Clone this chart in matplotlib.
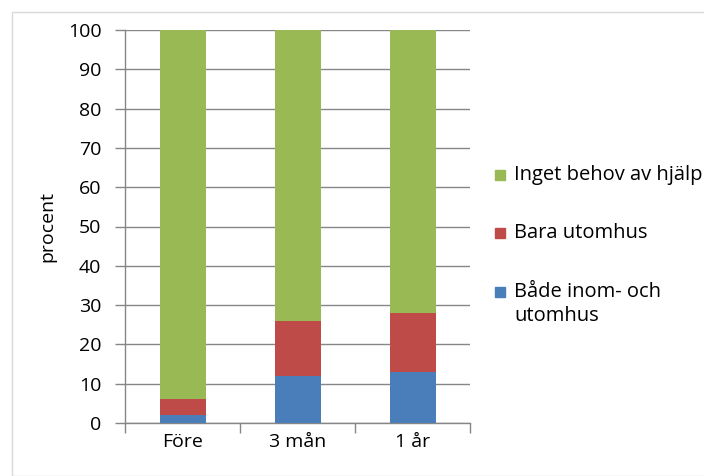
import matplotlib
matplotlib.use("Agg")
import matplotlib.pyplot as plt
from matplotlib.patches import Rectangle
import numpy as np

plt.rcParams['font.family'] = ['Open Sans', 'DejaVu Sans']

categories = ["Före", "3 mån", "1 år"]
bada = [2, 12, 13]          # Både inom- och utomhus
bara_ute = [4, 14, 15]      # Bara utomhus
inget = [94, 74, 72]        # Inget behov av hjälp
yticks = list(range(0, 101, 10))
series_labels = ["Inget behov av hjälp", "Bara utomhus", "Både inom- och\nutomhus"]

c_blue = "#4A7EBB"
c_red = "#BE4B48"
c_green = "#98B954"
c_grid = "#868686"
fs = 14

W, H = 704, 476
fig = plt.figure(figsize=(W / 100, H / 100), dpi=100)

# outer chart frame
fig.patches.append(Rectangle((12 / W, 0), 2, 1 - 12 / H, transform=fig.transFigure,
                             fill=False, edgecolor="#D9D9D9", linewidth=1.0))

ax = fig.add_axes([125 / W, 1 - 423 / H, (470 - 125) / W, (423 - 30) / H])

x = np.arange(len(categories))
w = 0.4
b1 = np.array(bada)
b2 = b1 + np.array(bara_ute)
ax.bar(x, bada, w, color=c_blue, zorder=3)
ax.bar(x, bara_ute, w, bottom=b1, color=c_red, zorder=3)
ax.bar(x, inget, w, bottom=b2, color=c_green, zorder=3)

ax.set_xlim(-0.5, len(categories) - 0.5)
ax.set_ylim(0, 100)
ax.set_yticks(yticks)
ax.set_yticklabels([str(v) for v in yticks], fontsize=fs)
ax.yaxis.grid(True, color=c_grid, linewidth=1.0, zorder=0)
ax.set_axisbelow(True)

ax.set_xticks(x)
ax.set_xticklabels(categories, fontsize=fs)
ax.tick_params(axis='x', length=0, pad=7)
ax.set_xticks(np.arange(-0.5, len(categories), 1.0), minor=True)
ax.tick_params(axis='x', which='minor', length=7, color=c_grid, width=1.0)
ax.tick_params(axis='y', length=7, color=c_grid, width=1.0, pad=10)

for s in ("top", "right"):
    ax.spines[s].set_visible(False)
for s in ("left", "bottom"):
    ax.spines[s].set_color(c_grid)
    ax.spines[s].set_linewidth(1.0)

ax.set_ylabel("procent", fontsize=fs, labelpad=8)

# legend, drawn as swatches and text in figure pixel coordinates
legend_colors = [c_green, c_red, c_blue]
legend_y = [175, 233, 292]
for lab, col, yc in zip(series_labels, legend_colors, legend_y):
    fig.patches.append(Rectangle((495 / W, 1 - (yc + 5) / H), 10 / W, 10 / H,
                                 transform=fig.transFigure, color=col))
    fig.text(514 / W, 1 - (yc - 10) / H, lab, fontsize=14.5, va="top", ha="left",
             linespacing=1.25)

fig.savefig("out.png", dpi=100)
